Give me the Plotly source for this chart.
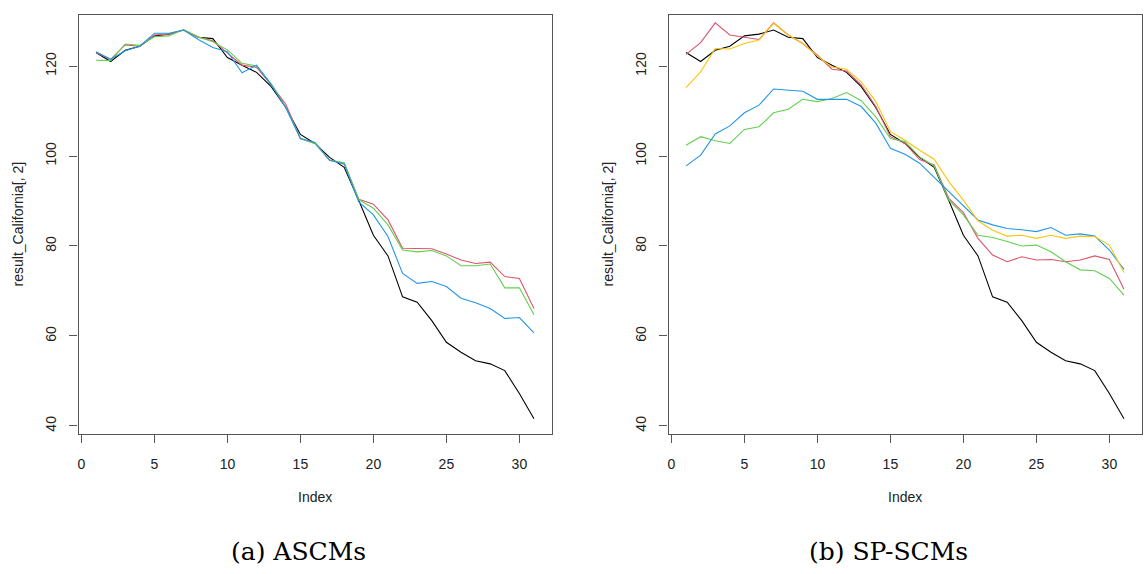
import plotly.graph_objects as go

index = list(range(1, 32))

# Black: observed series (result_California[, 2])
observed = [123.0, 121.0, 123.5, 124.4, 126.7, 127.1, 128.0, 126.4, 126.1, 121.9,
            120.2, 118.6, 115.4, 110.8, 104.8, 102.8, 99.7, 97.5, 90.1, 82.4,
            77.8, 68.7, 67.5, 63.4, 58.6, 56.4, 54.5, 53.8, 52.3, 47.2, 41.6]

# (a) ASCMs
a_red = [123.0, 121.5, 124.7, 124.4, 126.9, 127.1, 128.0, 126.4, 125.6, 122.8,
         120.2, 119.7, 115.8, 111.5, 103.9, 102.8, 99.0, 98.4, 90.4, 89.3,
         85.8, 79.5, 79.4, 79.4, 78.2, 76.9, 76.1, 76.4, 73.2, 72.8, 66.1]
a_green = [121.3, 121.2, 124.9, 124.6, 126.5, 126.7, 128.1, 126.5, 125.4, 123.6,
           120.6, 120.0, 116.1, 110.8, 103.9, 102.8, 99.1, 98.5, 90.3, 88.4,
           84.7, 79.1, 78.7, 79.0, 77.8, 75.6, 75.6, 76.0, 70.7, 70.7, 64.7]
a_blue = [123.2, 121.5, 123.4, 124.4, 127.3, 127.3, 128.0, 125.9, 124.1, 123.2,
          118.5, 120.2, 115.8, 110.8, 103.9, 103.0, 99.1, 98.2, 89.8, 86.9,
          82.1, 73.9, 71.7, 72.1, 71.0, 68.4, 67.4, 66.1, 63.9, 64.1, 60.7]

# (b) SP-SCMs
b_red = [122.6, 125.2, 129.6, 126.9, 126.4, 125.9, 129.6, 126.9, 125.0, 122.4,
         119.3, 118.9, 115.8, 111.0, 104.3, 102.8, 99.2, 98.0, 90.6, 87.4,
         81.7, 78.0, 76.5, 77.6, 76.9, 77.0, 76.5, 76.9, 77.8, 77.0, 70.4]
b_green = [102.4, 104.3, 103.4, 102.8, 105.9, 106.5, 109.6, 110.4, 112.6, 112.1,
           112.8, 114.1, 112.3, 108.7, 103.9, 103.2, 99.8, 97.8, 90.2, 86.9,
           82.4, 81.9, 81.0, 80.0, 80.2, 78.7, 76.5, 74.7, 74.5, 72.8, 69.1]
b_blue = [97.8, 100.2, 104.9, 106.7, 109.6, 111.3, 114.9, 114.7, 114.4, 112.6,
          112.6, 112.6, 111.0, 107.3, 101.7, 100.4, 98.4, 95.3, 92.1, 89.1,
          85.8, 84.7, 83.9, 83.6, 83.2, 84.1, 82.4, 82.7, 82.2, 79.1, 74.8]
b_yellow = [115.2, 118.7, 123.9, 123.8, 125.0, 125.8, 129.5, 126.9, 125.0, 122.2,
            119.8, 119.3, 116.5, 112.1, 105.4, 103.5, 101.3, 99.3, 94.3, 90.2,
            85.6, 83.5, 82.2, 82.4, 81.7, 82.4, 81.7, 82.2, 82.1, 80.2, 74.1]

x_ticks = [0, 5, 10, 15, 20, 25, 30]
y_ticks = [40, 60, 80, 100, 120]
captions = ["(a) ASCMs", "(b) SP-SCMs"]
y_title = "result_California[, 2]"
x_title = "Index"

BLACK = "#000000"
RED = "#DF536B"
GREEN = "#61D04F"
BLUE = "#2297E6"
YELLOW = "#F5C710"

fig = go.Figure()

def add(y, color, xa, ya):
    fig.add_trace(go.Scatter(x=index, y=y, mode="lines",
                             line=dict(color=color, width=1.1),
                             xaxis=xa, yaxis=ya, showlegend=False,
                             hoverinfo="skip"))

for ser, col in [(observed, BLACK), (a_red, RED), (a_green, GREEN), (a_blue, BLUE)]:
    add(ser, col, "x", "y")
for ser, col in [(observed, BLACK), (b_red, RED), (b_green, GREEN), (b_blue, BLUE), (b_yellow, YELLOW)]:
    add(ser, col, "x2", "y2")

W, H = 1144, 574
ymin, ymax = min(observed), max(observed)
pad = 0.04 * (ymax - ymin)
yr = [ymin - pad, ymax + pad]
xr = [1 - 0.04 * 30, 31 + 0.04 * 30]

dom_y = [1 - 434.3 / H, 1 - 14.5 / H]
dom_x1 = [78.5 / W, 551.5 / W]
dom_x2 = [668.5 / W, 1141.5 / W]

tickfont = dict(family="Liberation Sans, Arial, sans-serif", size=14, color="#222222")
axis_common = dict(showgrid=False, zeroline=False, showline=True, mirror=True,
                   linecolor="#555555", linewidth=1.3, ticks="outside", ticklen=8,
                   tickwidth=1.2, tickcolor="#555555", tickfont=tickfont,
                   automargin=False)

fig.update_layout(
    template="none",
    width=W, height=H,
    margin=dict(l=0, r=0, t=0, b=0, pad=0),
    paper_bgcolor="white", plot_bgcolor="white",
    xaxis=dict(domain=dom_x1, range=xr, tickvals=x_ticks, anchor="y",
               ticklabelstandoff=9, **axis_common),
    yaxis=dict(domain=dom_y, range=yr, tickvals=y_ticks, anchor="x",
               tickangle=-90, ticklabelstandoff=8, **axis_common),
    xaxis2=dict(domain=dom_x2, range=xr, tickvals=x_ticks, anchor="y2",
                ticklabelstandoff=9, **axis_common),
    yaxis2=dict(domain=dom_y, range=yr, tickvals=y_ticks, anchor="x2",
                tickangle=-90, ticklabelstandoff=8, **axis_common),
)

titlefont = dict(family="Liberation Sans, Arial, sans-serif", size=14, color="#222222")
capfont = dict(family="DejaVu Serif, serif", size=25, color="#000000")
ymid = 1 - 224.4 / H
for dx, cap in zip([dom_x1, dom_x2], captions):
    cx = (dx[0] + dx[1]) / 2
    fig.add_annotation(x=cx, y=1 - 496.7 / H, xref="paper", yref="paper",
                       text=x_title, showarrow=False, font=titlefont,
                       xanchor="center", yanchor="middle")
    fig.add_annotation(x=dx[0] - 60.5 / W, y=ymid, xref="paper", yref="paper",
                       text=y_title, showarrow=False, font=titlefont, textangle=-90,
                       xanchor="center", yanchor="middle")
    fig.add_annotation(x=cx - 16.5 / W, y=1 - 551.5 / H, xref="paper", yref="paper",
                       text=cap, showarrow=False, font=capfont,
                       xanchor="center", yanchor="middle")

fig.write_html(
    "out.html",
    config={"displayModeBar": False},
    post_script="document.body.style.margin='0';document.body.style.padding='0';"
                "document.body.style.overflow='hidden';",
)
